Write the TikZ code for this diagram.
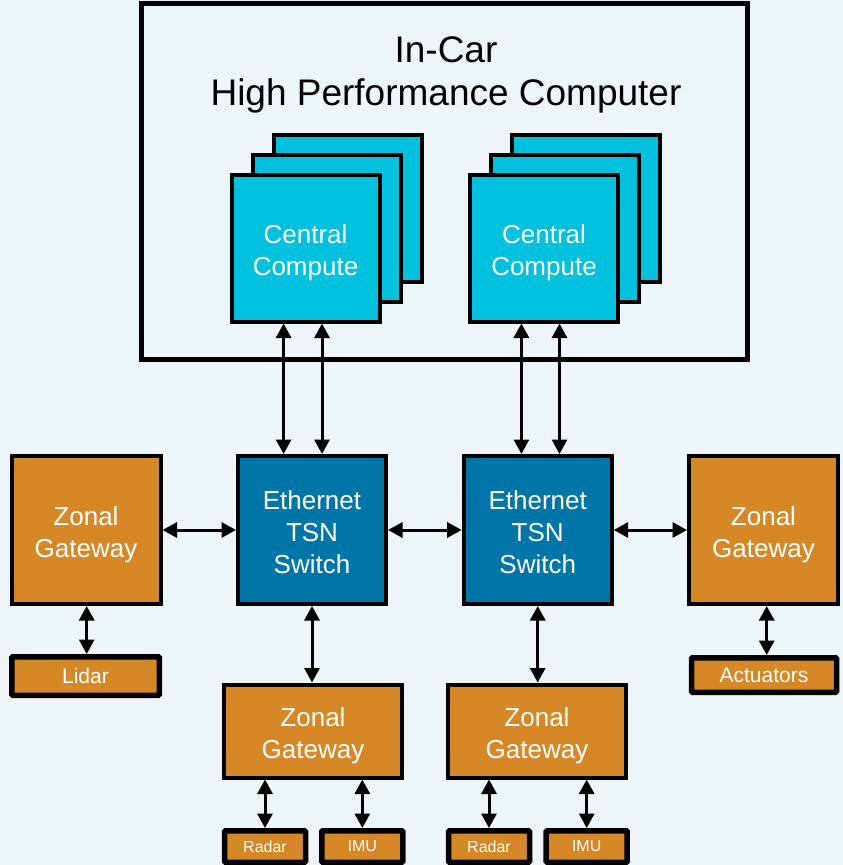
\documentclass[tikz,border=0pt]{standalone}
\usepackage{fontspec}
\setmainfont{Liberation Sans}
\usetikzlibrary{arrows.meta}
\definecolor{bgcol}{HTML}{EEF5F9}
\definecolor{computecol}{HTML}{00C1DE}
\definecolor{switchcol}{HTML}{0076A8}
\definecolor{zonecol}{HTML}{D78826}
\tikzset{
  boxbase/.style={draw=black, rectangle, inner sep=0pt},
  boxtext/.style={text=white, align=center, inner sep=0pt, font=\fontsize{26}{32}\selectfont},
  compute/.style={boxbase, fill=computecol, line width=4pt, minimum width=148pt, minimum height=147pt},
  switchbox/.style={boxbase, fill=switchcol, line width=4pt, minimum width=148pt, minimum height=148pt},
  zonal/.style={boxbase, fill=zonecol, line width=4pt, minimum width=149pt, minimum height=148pt},
  zonalwide/.style={zonal, minimum width=178pt, minimum height=93pt},
  sensor/.style={boxbase, fill=zonecol, line width=5.5pt, rounded corners=1pt, text=white,
    font=\fontsize{21}{25}\selectfont},
  smallsensor/.style={sensor, minimum width=81pt, minimum height=31.5pt,
    font=\fontsize{16}{19}\selectfont},
  link/.style={line width=3pt, {Triangle[length=14.5pt,width=15pt]}-{Triangle[length=14.5pt,width=15pt]}},
}
\begin{document}
\begin{tikzpicture}[x=1pt,y=-1pt]
\fill[bgcol] (0,0) rectangle (843,865);
\useasboundingbox (0,0) rectangle (843,865);

% High performance computer enclosure
\node[draw=black, line width=5pt, minimum width=606pt, minimum height=356pt, inner sep=0pt] (hpc) at (444.5,181.5) {};
\node[font=\fontsize{37}{44}\selectfont, anchor=base] (title1) at (446,62.7) {In-Car};
\node[font=\fontsize{37}{44}\selectfont, anchor=base] (title2) at (446,105) {High Performance Computer};

% Stacked compute modules, left
\node[compute] (ccL3) at (347.5,208) {};
\node[compute] (ccL2) at (326.5,228) {};
\node[compute] (ccL)  at (305.5,248) {};
\node[boxtext] (ccLt) at ([yshift=-5pt]ccL.center) {Central\\Compute};
% Stacked compute modules, right
\node[compute] (ccR3) at (586,208) {};
\node[compute] (ccR2) at (565,228) {};
\node[compute] (ccR)  at (544,248) {};
\node[boxtext] (ccRt) at ([yshift=-5pt]ccR.center) {Central\\Compute};

% Ethernet switches
\node[switchbox] (swL) at (312,530) {};
\node[boxtext] (swLt) at ([yshift=-2pt]swL.center) {Ethernet\\TSN\\Switch};
\node[switchbox] (swR) at (537.7,530) {};
\node[boxtext] (swRt) at ([yshift=-2pt]swR.center) {Ethernet\\TSN\\Switch};

% Zonal gateways
\node[zonal] (zgL) at (86,530) {};
\node[boxtext] (zgLt) at ([yshift=-5pt]zgL.center) {Zonal\\Gateway};
\node[zonal] (zgR) at (763.5,530) {};
\node[boxtext] (zgRt) at ([yshift=-5pt]zgR.center) {Zonal\\Gateway};
\node[zonalwide] (zbL) at (313,731) {};
\node[boxtext] (zbLt) at ([yshift=-5pt]zbL.center) {Zonal\\Gateway};
\node[zonalwide] (zbR) at (537,731) {};
\node[boxtext] (zbRt) at ([yshift=-5pt]zbR.center) {Zonal\\Gateway};

% Sensors and actuators
\node[sensor, minimum width=147.5pt, minimum height=38.5pt] (lidar) at (85.5,676) {Lidar};
\node[sensor, minimum width=145pt, minimum height=34.5pt] (act) at (764,675) {Actuators};
\node[smallsensor] (radL) at (265,846.5) {Radar};
\node[smallsensor] (imuL) at (362.3,846.5) {IMU};
\node[smallsensor] (radR) at (489,846.5) {Radar};
\node[smallsensor] (imuR) at (586.7,846.5) {IMU};

% Link columns
\coordinate (la) at (283.6,0);
\coordinate (lb) at (322,0);
\coordinate (ra) at (521.4,0);
\coordinate (rb) at (559.5,0);
\coordinate (act x) at (766.7,0);
\coordinate (lid x) at (86.7,0);

% Compute <-> switch links
\draw[link] (ccL.south -| la) -- (swL.north -| la);
\draw[link] (ccL.south -| lb) -- (swL.north -| lb);
\draw[link] (ccR.south -| ra) -- (swR.north -| ra);
\draw[link] (ccR.south -| rb) -- (swR.north -| rb);

% Horizontal backbone
\draw[link] (zgL.east) -- (swL.west);
\draw[link] (swL.east) -- (swR.west);
\draw[link] (swR.east) -- (zgR.west);

% Switch <-> lower gateways
\draw[link] (swL.south) -- (zbL.north -| swL.south);
\draw[link] (swR.south) -- (zbR.north -| swR.south);

% Gateways <-> end devices
\draw[link] (zgL.south -| lid x) -- (lidar.north -| lid x);
\draw[link] (zgR.south -| act x) -- (act.north -| act x);
\draw[link] (zbL.south -| radL.north) -- (radL.north);
\draw[link] (zbL.south -| imuL.north) -- (imuL.north);
\draw[link] (zbR.south -| radR.north) -- (radR.north);
\draw[link] (zbR.south -| imuR.north) -- (imuR.north);
\end{tikzpicture}
\end{document}
